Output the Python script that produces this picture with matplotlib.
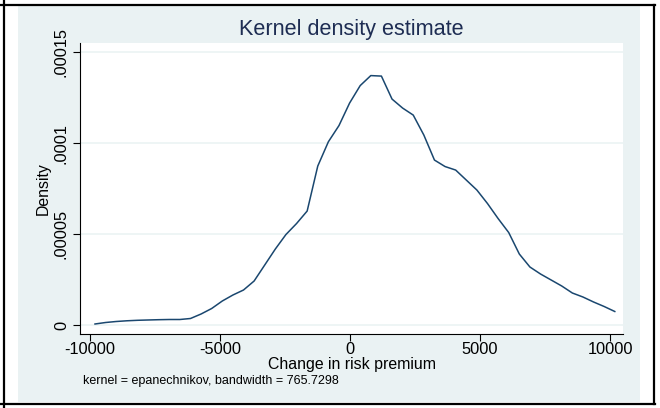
import matplotlib
matplotlib.use("Agg")
from matplotlib import pyplot as plt
from matplotlib.lines import Line2D
from matplotlib.patches import Rectangle

plt.rcParams["font.family"] = ["Liberation Sans", "DejaVu Sans"]

# Kernel density estimate of change in risk premium
change = [
    -9808, -9400, -8992, -8584, -8176, -7768, -7360, -6952, -6544, -6136,
    -5728, -5320, -4912, -4504, -4096, -3688, -3280, -2872, -2464, -2056,
    -1648, -1240, -832, -424, -16, 392, 800, 1208, 1616, 2024,
    2432, 2840, 3248, 3656, 4064, 4472, 4880, 5288, 5696, 6104,
    6512, 6920, 7328, 7736, 8144, 8552, 8960, 9368, 9776, 10184,
]
density_e5 = [
    0.055, 0.137, 0.192, 0.231, 0.258, 0.275, 0.291, 0.302, 0.302, 0.357,
    0.604, 0.907, 1.319, 1.648, 1.923, 2.418, 3.297, 4.176, 4.973, 5.577,
    6.264, 8.736, 10.071, 10.962, 12.198, 13.159, 13.709, 13.681, 12.418, 11.923,
    11.538, 10.440, 9.066, 8.709, 8.516, 7.967, 7.418, 6.676, 5.852, 5.082,
    3.901, 3.187, 2.802, 2.473, 2.143, 1.758, 1.538, 1.264, 1.016, 0.742,
]
density = [v * 1e-5 for v in density_e5]

x_ticks = [-10000, -5000, 0, 5000, 10000]
x_tick_labels = ["-10000", "-5000", "0", "5000", "10000"]
y_ticks = [0, 0.00005, 0.0001, 0.00015]
y_tick_labels = ["0", ".00005", ".0001", ".00015"]

W, H = 660, 408
BG = "#eaf2f3"
LINE = "#1a476f"


def fx(px):
    return px / W


def fy(py):
    return 1 - py / H


fig = plt.figure(figsize=(W / 100, H / 100), dpi=100)
fig.patch.set_facecolor("white")

# light graph region (behind the axes)
fig.patches.append(Rectangle((fx(18), fy(402)), fx(640) - fx(18), fy(6) - fy(402),
                             transform=fig.transFigure, facecolor=BG, edgecolor="none", zorder=-5))

# black frame lines around the figure
for xs, ys in [((0, 655), (5, 5)), ((3.5, 3.5), (0, 408)),
               ((654, 654), (5, 404)), ((0, 655), (404, 404))]:
    fig.add_artist(Line2D([fx(x) for x in xs], [fy(y) for y in ys],
                          transform=fig.transFigure, color="black", lw=1.6))

ax = fig.add_axes([fx(80), fy(334), fx(623) - fx(80), fy(43) - fy(334)])
ax.set_facecolor("white")
ax.plot(change, density, color=LINE, lw=1.1)

ax.set_xlim(-10385, 10500)
ax.set_ylim(-0.00000495, 0.000155)
ax.set_xticks(x_ticks, x_tick_labels)
ax.set_yticks(y_ticks, y_tick_labels)
ax.tick_params(axis="x", length=5, width=0.8, pad=1, labelsize=11.8)
ax.tick_params(axis="y", length=5, width=0.8, pad=3, labelsize=11.8)
for lab in ax.get_yticklabels():
    lab.set_rotation(90)
    lab.set_va("center")

ax.grid(axis="y", color=BG, lw=1.1)
ax.set_axisbelow(True)
for side in ["top", "right"]:
    ax.spines[side].set_visible(False)
for side in ["left", "bottom"]:
    ax.spines[side].set_color("black")
    ax.spines[side].set_linewidth(0.8)

ax.set_xlabel("Change in risk premium", fontsize=11.4, labelpad=0)
ax.set_ylabel("Density", fontsize=11.4, labelpad=2)

fig.text(fx(351.5), fy(30), "Kernel density estimate", ha="center", va="center",
         fontsize=15.6, color="#1e2d53")
fig.text(fx(83), fy(381), "kernel = epanechnikov, bandwidth = 765.7298",
         ha="left", va="center", fontsize=9)

fig.savefig("out.png", dpi=100, facecolor=fig.get_facecolor())
